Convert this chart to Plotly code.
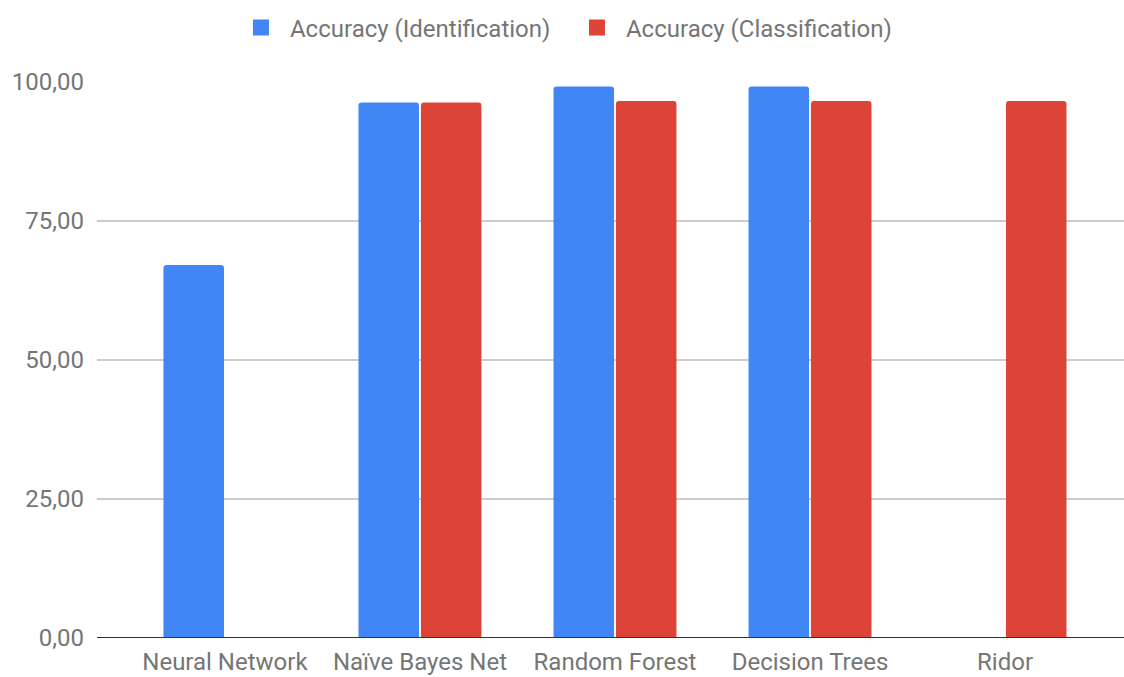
import plotly.graph_objects as go

categories = ["Neural Network", "Naïve Bayes Net", "Random Forest", "Decision Trees", "Ridor"]
acc_identification = [67.1, 96.3, 99.2, 99.2, 0]
acc_classification = [0, 96.3, 96.6, 96.6, 96.6]
series_names = ["Accuracy (Identification)", "Accuracy (Classification)"]
y_ticks = [0, 25, 50, 75, 100]

BLUE = "#4285F4"
RED = "#DB4437"
GRAY = "#757575"

fig = go.Figure()
fig.add_trace(go.Bar(name=series_names[0], x=categories, y=acc_identification,
                     marker=dict(color=BLUE, line=dict(width=0)), showlegend=False))
fig.add_trace(go.Bar(name=series_names[1], x=categories, y=acc_classification,
                     marker=dict(color=RED, line=dict(width=0)), showlegend=False))
# legend entries with larger square symbols
for name, col in zip(series_names, [BLUE, RED]):
    fig.add_trace(go.Scatter(name=name, x=[None], y=[None], mode="markers",
                             marker=dict(symbol="square", size=16, color=col),
                             showlegend=True, hoverinfo="skip"))

fig.update_layout(
    width=1124, height=677,
    margin=dict(l=97, r=0, t=82, b=39, autoexpand=False),
    paper_bgcolor="white", plot_bgcolor="white",
    barmode="group", bargap=0.36, bargroupgap=0.03, barcornerradius=3,
    separators=",.",
    font=dict(family="Roboto", size=24, color=GRAY),
    showlegend=True,
    legend=dict(orientation="h", x=0.5053, xanchor="center", xref="container",
                y=1 - 28 / 677, yanchor="middle", yref="container", itemwidth=48,
                font=dict(size=24, color=GRAY), entrywidth=273, entrywidthmode="pixels"),
    xaxis=dict(range=[-0.656, 4.61], showgrid=False, showline=False, ticks="",
               automargin=False, ticklabelstandoff=7,
               tickfont=dict(size=24, color=GRAY), zeroline=False),
    yaxis=dict(range=[0, 100], tickvals=y_ticks, tickformat=".2f", showgrid=True,
               automargin=False,
               gridcolor="#CCCCCC", gridwidth=1.5, zeroline=False, showline=False,
               ticks="", ticklabelstandoff=12, tickfont=dict(size=24, color=GRAY)),
    shapes=[dict(type="line", xref="paper", yref="y", x0=0, x1=1, y0=0, y1=0,
                 line=dict(color="#333333", width=2))],
)

fig.write_html("out.html", config={"displayModeBar": False},
               post_script="document.body.style.margin='0';document.body.style.overflow='hidden';")
